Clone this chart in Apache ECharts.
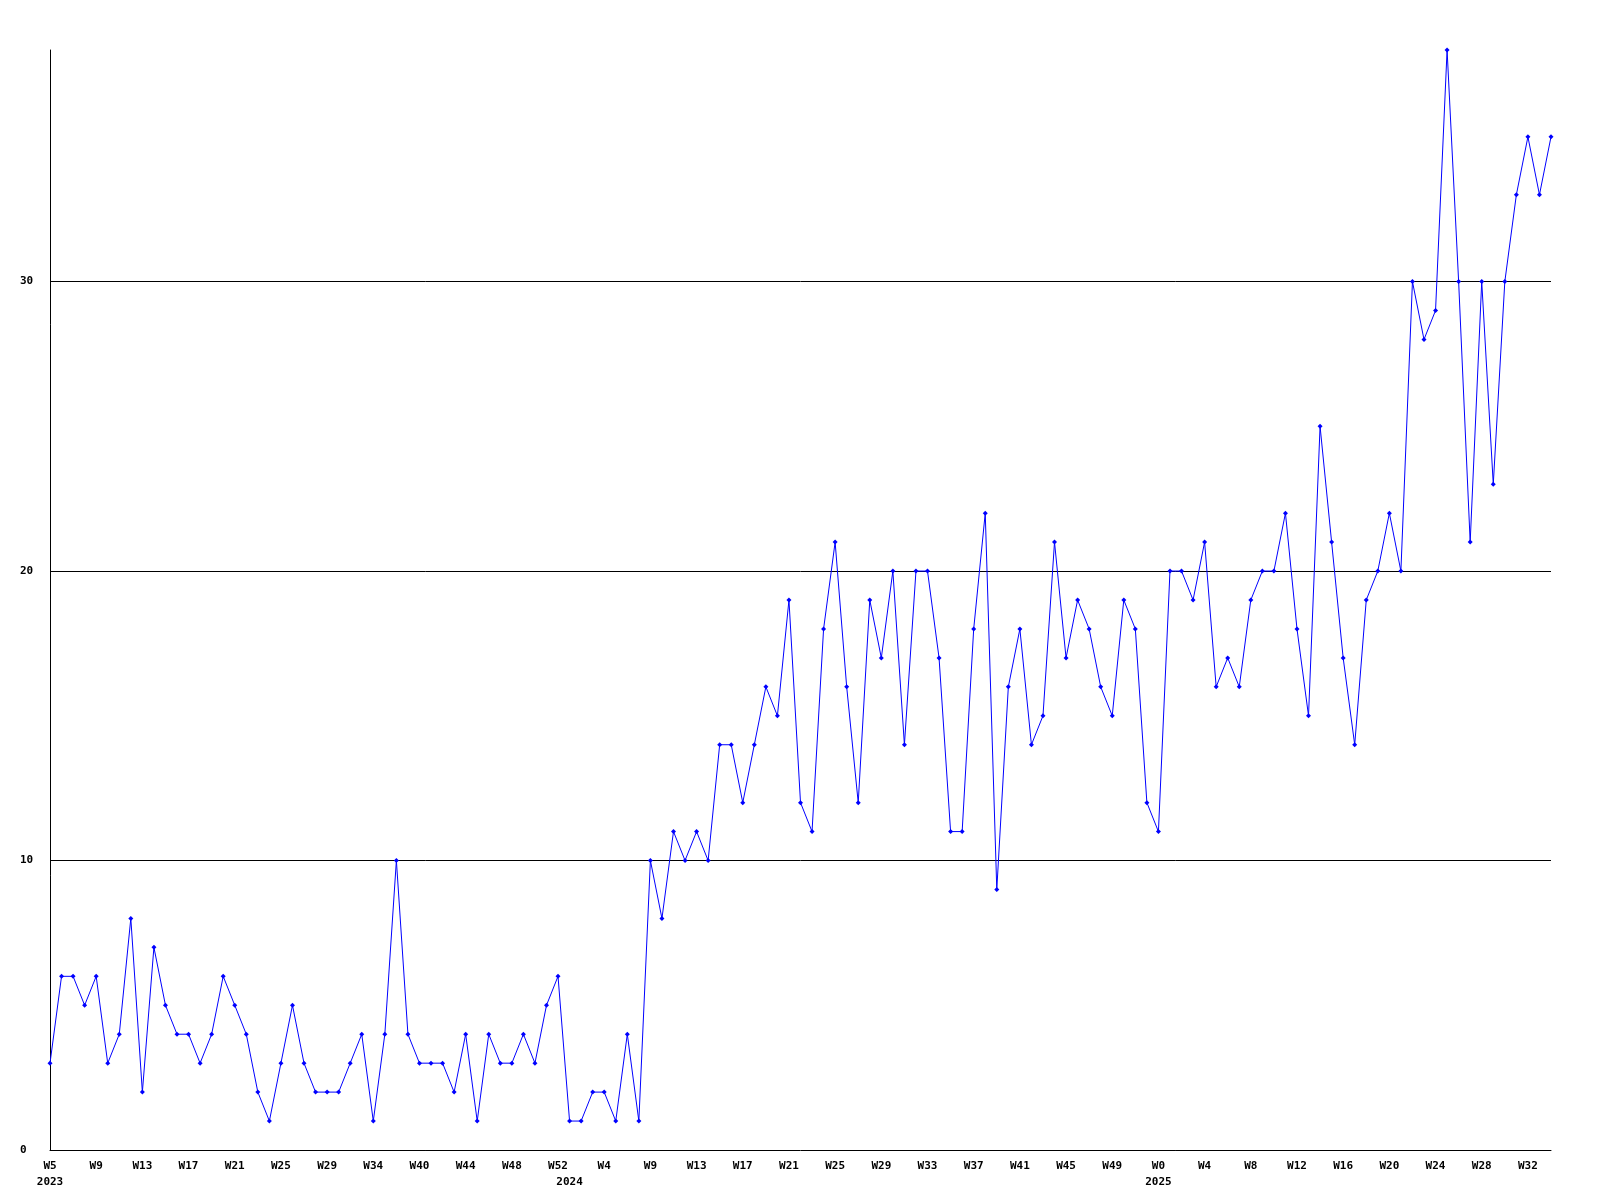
<!DOCTYPE html>
<html>
<head>
<meta charset="utf-8">
<style>
  html, body { margin: 0; padding: 0; background: #ffffff; }
  #chart { width: 1600px; height: 1200px; }
</style>
<script src="https://cdn.jsdelivr.net/npm/echarts@6/dist/echarts.min.js"></script>
</head>
<body>
<div id="chart"></div>
<script>
// Week numbers present in the data, per year
const weeks2023 = [5,6,7,8,9,10,11,12,13,14,15,16,17,18,19,20,21,22,23,24,25,26,27,28,29,30,31,32,34,35,36,37,40,41,42,43,44,45,46,47,48,49,50,51,52];
const weeks2024 = [1,2,3,4,5,6,7,9,10,11,12,13,14,15,16,17,18,19,20,21,22,23,24,25,26,27,28,29,30,31,32,33,34,35,36,37,38,39,40,41,42,43,44,45,46,47,48,49,50,51,52];
const weeks2025 = [0,1,2,3,4,5,6,7,8,9,10,11,12,13,14,15,16,17,18,19,20,21,22,23,24,25,26,27,28,29,30,31,32,33,34];

// Weekly counts
const values = [
  3,6,6,5,6,3,4,8,2,7,5,4,4,3,4,6,5,4,2,1,3,5,3,2,2,2,3,4,1,4,10,4,3,
  3,3,2,4,1,4,3,3,4,3,5,6,1,1,2,2,1,4,1,10,8,11,
  10,11,10,14,14,12,14,16,15,19,12,11,18,21,16,12,19,17,20,14,20,20,17,11,11,18,22,9,
  16,18,14,15,21,17,19,18,16,15,19,18,12,11,20,20,19,21,
  16,17,16,19,20,20,22,18,15,25,21,17,14,19,20,22,20,30,28,29,38,30,21,30,23,30,33,35,33,35
];

const yMin = 0, yMax = 38, yInterval = 10;
const labelEvery = 4;

const categories = []
  .concat(weeks2023.map(w => '2023-W' + w))
  .concat(weeks2024.map(w => '2024-W' + w))
  .concat(weeks2025.map(w => '2025-W' + w));

const firstOfYear = new Set();
categories.forEach((c, i) => {
  if (i === 0 || categories[i - 1].slice(0, 4) !== c.slice(0, 4)) firstOfYear.add(i);
});

const chart = echarts.init(document.getElementById('chart'), null, { renderer: 'canvas' });
const font = "'DejaVu Sans Mono', 'Liberation Mono', monospace";

chart.setOption({
  backgroundColor: '#ffffff',
  animation: false,
  grid: { left: 50, right: 49, top: 50, bottom: 50, containLabel: false },
  xAxis: {
    type: 'category',
    data: categories,
    boundaryGap: false,
    axisLine: { show: true, lineStyle: { color: '#000000', width: 1 } },
    axisTick: { show: false },
    splitLine: { show: false },
    axisLabel: {
      interval: (i) => i % labelEvery === 0 || firstOfYear.has(i),
      formatter: (val, i) => {
        const parts = val.split('-');
        const top = (i % labelEvery === 0) ? parts[1] : '';
        return firstOfYear.has(i) ? top + '\n' + parts[0] : top;
      },
      color: '#000000',
      fontFamily: font,
      fontWeight: 'bold',
      fontSize: 11,
      lineHeight: 16,
      margin: 8,
      align: 'center',
      verticalAlign: 'top',
      hideOverlap: false
    }
  },
  yAxis: {
    type: 'value',
    min: yMin,
    max: yMax,
    interval: yInterval,
    axisLine: { show: true, lineStyle: { color: '#000000', width: 1 } },
    axisTick: { show: false },
    splitLine: { show: true, showMinLine: false, showMaxLine: false, lineStyle: { color: '#000000', width: 1 } },
    axisLabel: {
      showMaxLabel: false,
      color: '#000000',
      fontFamily: font,
      fontWeight: 'bold',
      fontSize: 11,
      align: 'left',
      margin: 30
    }
  },
  series: [{
    type: 'line',
    data: values,
    symbol: 'diamond',
    symbolSize: 5,
    showAllSymbol: true,
    lineStyle: { color: '#0000ff', width: 1 },
    itemStyle: { color: '#0000ff' },
    emphasis: { disabled: true }
  }]
});
</script>
</body>
</html>
